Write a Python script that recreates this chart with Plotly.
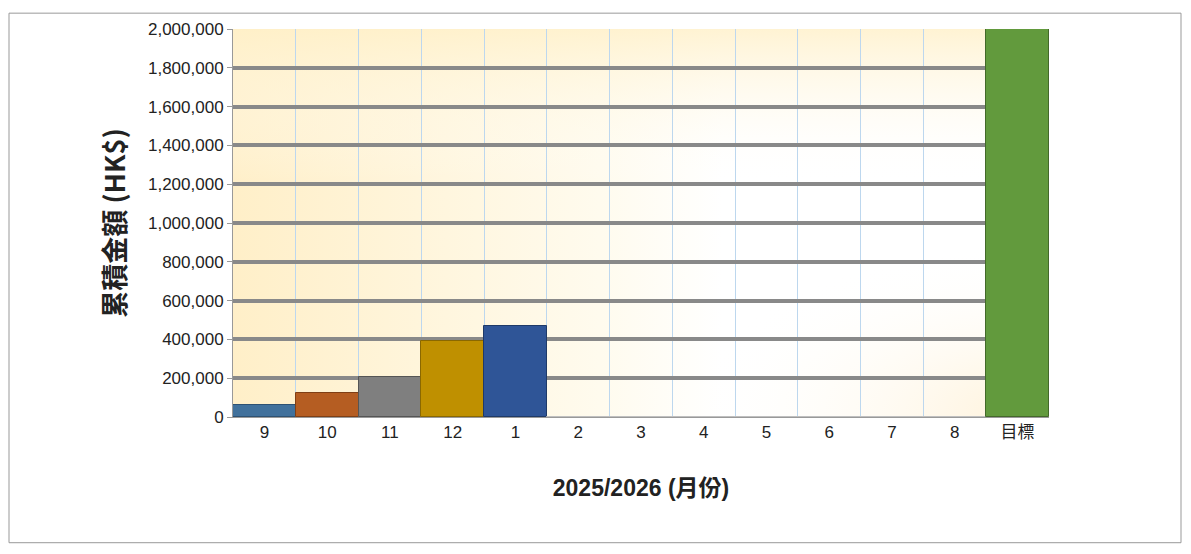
import plotly.graph_objects as go
import base64

months = ["9", "10", "11", "12", "1", "2", "3", "4", "5", "6", "7", "8", "目標"]
values = [61000, 122000, 204000, 393000, 470000, 0, 0, 0, 0, 0, 0, 0, 2000000]
colors = ["#41719C", "#B55D22", "#7F7F7F", "#BF9000", "#2F5597"] + ["#D9D9D9"] * 7 + ["#629A3D"]
lines = ["#2E5273", "#7F3F15", "#555555", "#8A6800", "#1F3A68"] + ["#BFBFBF"] * 7 + ["#43692A"]

svg = """<svg xmlns='http://www.w3.org/2000/svg' width='800' height='400' preserveAspectRatio='none'>
<defs>
<linearGradient id='a' x1='0' y1='0' x2='1' y2='0'>
<stop offset='0' stop-color='#FFEFC8'/><stop offset='0.45' stop-color='#FFFBEE'/><stop offset='0.6' stop-color='#FFFFFF'/></linearGradient>
<linearGradient id='b' x1='0' y1='0' x2='0' y2='1'>
<stop offset='0' stop-color='#FFF0C8' stop-opacity='0.8'/><stop offset='0.4' stop-color='#FFFFFF' stop-opacity='0'/></linearGradient>
<radialGradient id='h' cx='1' cy='1' r='0.45'>
<stop offset='0' stop-color='#FFF1D6' stop-opacity='1'/><stop offset='1' stop-color='#FFFFFF' stop-opacity='0'/></radialGradient>
</defs>
<rect width='800' height='400' fill='url(#a)'/>
<rect width='800' height='400' fill='url(#b)'/>
<rect width='800' height='400' fill='url(#h)'/>
</svg>"""
uri = "data:image/svg+xml;base64," + base64.b64encode(svg.encode()).decode()

W, H = 1175, 538
L, R, T, B = 225, 134, 17, 129
pw, ph = W - L - R, H - T - B

fig = go.Figure(go.Bar(x=months, y=values, marker=dict(color=colors, line=dict(color=lines, width=1)), width=1))
fig.update_layout(
    width=W, height=H, paper_bgcolor="white", plot_bgcolor="rgba(0,0,0,0)",
    margin=dict(l=L, r=R, t=T, b=B), bargap=0, showlegend=False,
    font=dict(family="Liberation Sans, Noto Sans CJK TC", size=17, color="#222"),
    images=[dict(source=uri, xref="paper", yref="paper", x=0, y=1, sizex=1, sizey=1,
                 sizing="stretch", layer="below")],
    shapes=[dict(type="rect", xref="paper", yref="paper", x0=-(L - 1) / pw, x1=1 + (R - 2) / pw,
                 y0=-(B - 2) / ph, y1=1 + (T - 1) / ph, line=dict(color="#999", width=1))],
)
fig.update_xaxes(type="category", tickson="boundaries", showgrid=True, gridcolor="#BDD7EE", gridwidth=1,
                 ticks="", showline=True, linecolor="#999",
                 title=dict(text="<b>2025/2026 (月份)</b>", font=dict(size=23, family="Liberation Sans, Noto Sans CJK TC"), standoff=38))
fig.update_yaxes(range=[0, 2000000], dtick=200000, tickformat=",", showgrid=True, gridcolor="#898989", gridwidth=4,
                 showline=True, linecolor="#999", ticks="outside", ticklen=5, tickcolor="#999",
                 title=dict(text="<b>累積金額 (HK$)</b>", font=dict(size=27, family="Noto Sans CJK TC"), standoff=14), zeroline=False)
fig.write_html("out.html")
